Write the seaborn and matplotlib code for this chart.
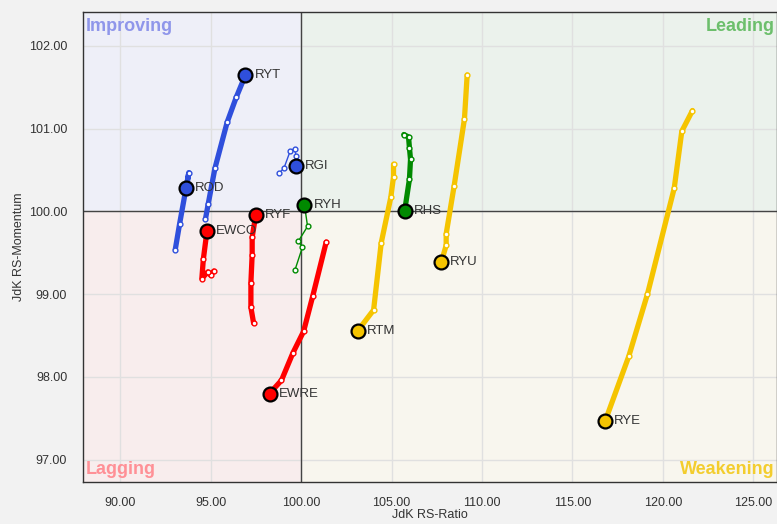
import pandas as pd
import seaborn as sns
import matplotlib.pyplot as plt

# tails, oldest -> newest (last point is the head)
ryt_x = [94.72, 94.87, 95.24, 95.92, 96.42, 96.93]
ryt_y = [99.91, 100.09, 100.52, 101.08, 101.38, 101.65]
rod_x = [93.05, 93.29, 93.80, 93.66]
rod_y = [99.54, 99.85, 100.47, 100.28]
rgi_x = [98.81, 99.05, 99.40, 99.64, 99.73, 99.73]
rgi_y = [100.47, 100.52, 100.73, 100.76, 100.67, 100.55]
ryh_x = [99.66, 100.08, 99.85, 100.36, 100.19]
ryh_y = [99.29, 99.57, 99.64, 99.82, 100.08]
ewco_x = [95.18, 95.00, 94.85, 94.52, 94.60, 94.80]
ewco_y = [99.28, 99.23, 99.27, 99.19, 99.42, 99.76]
ryf_x = [97.38, 97.23, 97.23, 97.30, 97.30, 97.50]
ryf_y = [98.65, 98.84, 99.14, 99.48, 99.69, 99.96]
ewre_x = [101.39, 100.65, 100.14, 99.55, 98.92, 98.26]
ewre_y = [99.63, 98.98, 98.55, 98.29, 97.96, 97.80]
rhs_x = [105.68, 105.94, 105.99, 106.05, 105.99, 105.72]
rhs_y = [100.93, 100.90, 100.77, 100.63, 100.39, 100.00]
rtm_x = [105.11, 105.11, 104.96, 104.43, 104.01, 103.14]
rtm_y = [100.57, 100.42, 100.17, 99.62, 98.81, 98.56]
ryu_x = [109.18, 109.03, 108.46, 108.02, 108.02, 107.75]
ryu_y = [101.65, 101.12, 100.31, 99.73, 99.59, 99.39]
rye_x = [121.63, 121.04, 120.62, 119.14, 118.11, 116.81]
rye_y = [101.22, 100.97, 100.28, 99.00, 98.25, 97.47]

symbols = ["RYT", "ROD", "RGI", "RYH", "EWCO", "RYF", "EWRE", "RHS", "RTM", "RYU", "RYE"]
xs = [ryt_x, rod_x, rgi_x, ryh_x, ewco_x, ryf_x, ewre_x, rhs_x, rtm_x, ryu_x, rye_x]
ys = [ryt_y, rod_y, rgi_y, ryh_y, ewco_y, ryf_y, ewre_y, rhs_y, rtm_y, ryu_y, rye_y]
quadrant = ["Improving", "Improving", "Improving", "Leading", "Lagging", "Lagging",
            "Lagging", "Leading", "Weakening", "Weakening", "Weakening"]
thin_tail = ["RGI", "RYH"]

colors = {"Improving": "#2f4fdc", "Leading": "#008a00",
          "Lagging": "#ff0000", "Weakening": "#f5c400"}
x_ticks = [90, 95, 100, 105, 110, 115, 120, 125]
y_ticks = [97, 98, 99, 100, 101, 102]

rows = []
for sym, xx, yy, q in zip(symbols, xs, ys, quadrant):
    for i, (a, b) in enumerate(zip(xx, yy)):
        rows.append({"symbol": sym, "x": a, "y": b, "step": i, "quad": q})
df = pd.DataFrame(rows)

plt.rcParams['font.family'] = ['Liberation Sans', 'DejaVu Sans']
fig = plt.figure(figsize=(7.77, 5.24), dpi=100, facecolor="#f2f2f2")
ax = fig.add_axes([0.107, 0.080, 0.893, 0.897])

xmin, xmax, ymin, ymax = 87.96, 126.3, 96.73, 102.41
ax.set_xlim(xmin, xmax)
ax.set_ylim(ymin, ymax)

# quadrant backgrounds
ax.fill_between([xmin, 100], 100, ymax, color="#eeeff8", zorder=0)
ax.fill_between([100, xmax], 100, ymax, color="#ebf2ec", zorder=0)
ax.fill_between([xmin, 100], ymin, 100, color="#f8eded", zorder=0)
ax.fill_between([100, xmax], ymin, 100, color="#f8f6ee", zorder=0)

ax.set_xticks(x_ticks)
ax.set_yticks(y_ticks)
ax.grid(True, color="#e0e0e0", lw=1, zorder=1)
ax.set_axisbelow(True)
ax.axvline(100, color="#444444", lw=1, zorder=2)
ax.axhline(100, color="#444444", lw=1, zorder=2)

for sym in symbols:
    d = df[df.symbol == sym]
    c = colors[d.quad.iloc[0]]
    lw = 1 if sym in thin_tail else 3.8
    sns.lineplot(data=d, x="x", y="y", sort=False, ax=ax, color=c, lw=lw,
                 estimator=None, zorder=3, solid_capstyle="round",
                 solid_joinstyle="round")
    tail = d.iloc[:-1]
    sns.scatterplot(data=tail, x="x", y="y", ax=ax, s=12, color="white",
                    edgecolor=c, linewidth=1, zorder=4)
    head = d.iloc[[-1]]
    sns.scatterplot(data=head, x="x", y="y", ax=ax, s=100, color=c,
                    edgecolor="black", linewidth=1.6, zorder=5)
    ax.annotate(sym, (head.x.iloc[0], head.y.iloc[0]), xytext=(6.5, 0),
                textcoords="offset points", va="center", fontsize=9.5,
                color="#333333", zorder=6)

qkw = dict(transform=ax.transAxes, fontsize=13, fontweight="bold")
ax.text(0.004, 0.988, "Improving", ha="left", va="top", color="#8f96ea", **qkw)
ax.text(0.997, 0.988, "Leading", ha="right", va="top", color="#6cbf6c", **qkw)
ax.text(0.004, 0.008, "Lagging", ha="left", va="bottom", color="#ff9096", **qkw)
ax.text(0.997, 0.008, "Weakening", ha="right", va="bottom", color="#f3cd2e", **qkw)

ax.xaxis.set_major_formatter(plt.FormatStrFormatter("%.2f"))
ax.yaxis.set_major_formatter(plt.FormatStrFormatter("%.2f"))
ax.tick_params(length=0, labelsize=9, colors="#333333")
ax.tick_params(axis="x", pad=10.5)
ax.tick_params(axis="y", pad=11.5)
ax.set_xlabel("JdK RS-Ratio", fontsize=9, color="#333333", labelpad=0)
ax.set_ylabel("JdK RS-Momentum", fontsize=9, color="#333333", labelpad=3)
for s in ax.spines.values():
    s.set_color("#333333")
    s.set_linewidth(1)

plt.savefig("out.png", dpi=100, facecolor=fig.get_facecolor())
plt.close()
